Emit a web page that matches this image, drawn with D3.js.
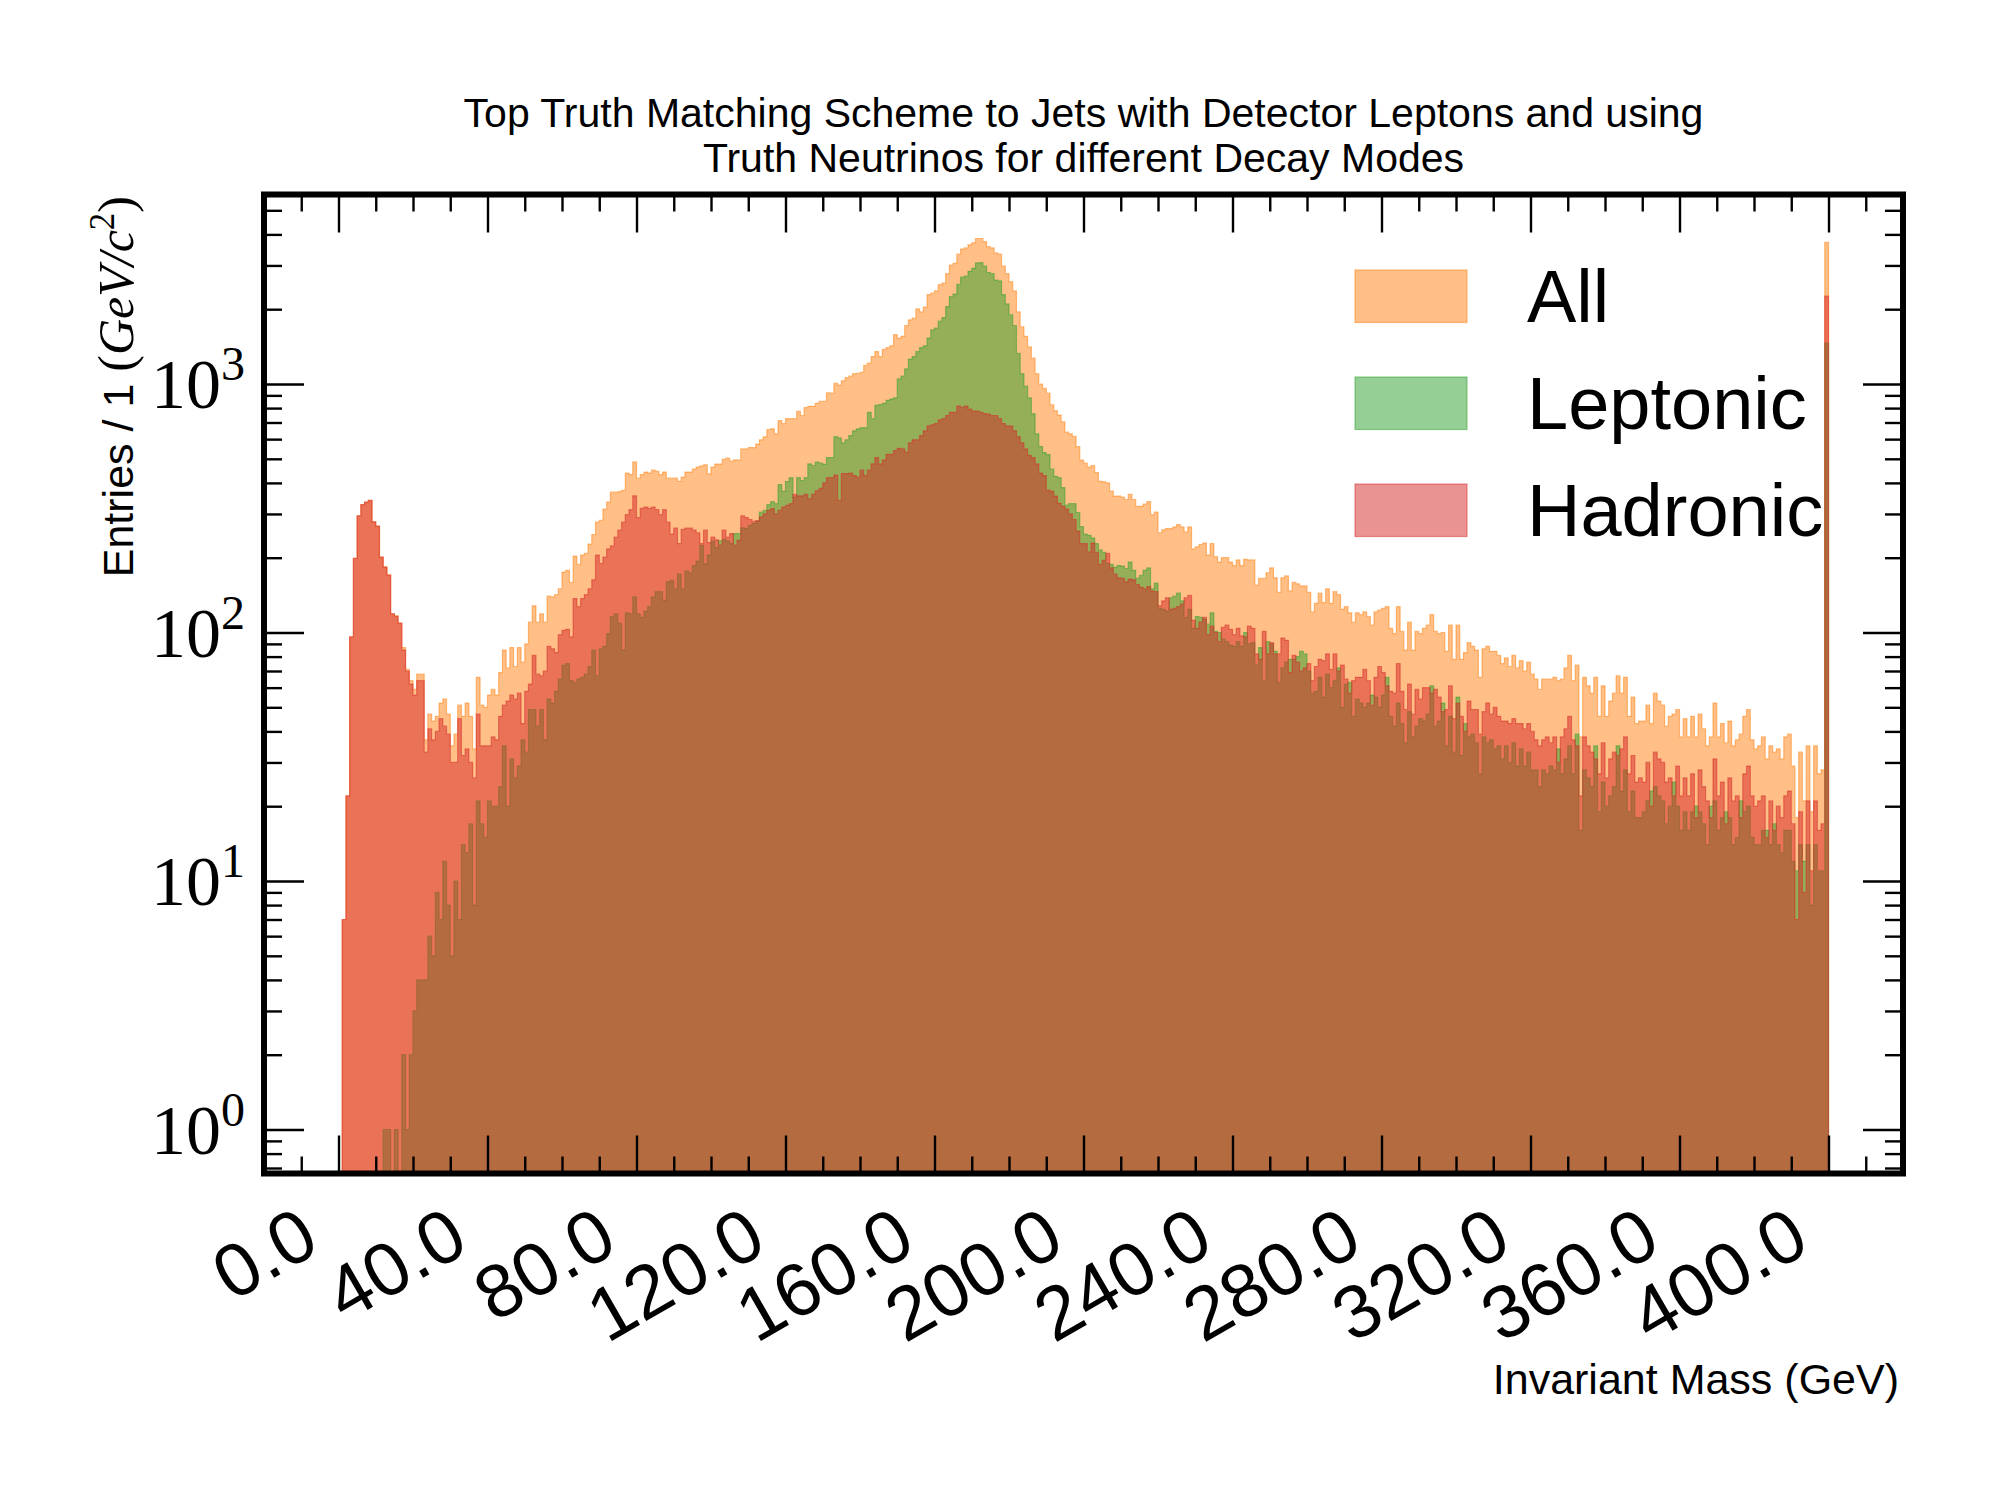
<!DOCTYPE html>
<html>
<head>
<meta charset="utf-8">
<title>Top Truth Matching - Invariant Mass</title>
<script src="https://d3js.org/d3.v7.min.js"></script>
<style>
  html, body { margin: 0; padding: 0; background: #ffffff; }
</style>
</head>
<body>
<svg id="chart"></svg>
<script>
// ---- data: 1 GeV bins from 0 to 400 GeV ----
var binStart = 0, binWidth = 1;

var allCounts = [
  0, 7, 22, 96, 199, 295, 327, 335, 340, 279, 268, 201, 184, 171, 119, 117, 109, 87, 71, 64, 59,
  68, 68, 37, 47, 44, 46, 52, 54, 47, 35, 39, 51, 46, 52, 46, 34, 66, 51, 50, 56,
  59, 56, 69, 85, 72, 87, 73, 87, 76, 90, 110, 128, 110, 119, 110, 140, 139, 142, 150, 175,
  178, 159, 203, 188, 205, 208, 227, 248, 278, 283, 314, 335, 367, 367, 369, 373, 438, 432, 486, 418,
  432, 442, 438, 450, 445, 432, 442, 418, 418, 418, 406, 422, 442, 442, 455, 463, 468, 473, 435, 463, 476, 476, 497, 503,
  490, 495, 495, 548, 548, 555, 555, 573, 596, 613, 656, 660, 630, 713, 693, 725, 725, 725, 777, 747, 804, 813, 813, 836, 851, 851,
  922, 920, 1007, 990, 1030, 1060, 1075, 1100, 1105, 1115, 1190, 1215, 1290, 1350, 1290, 1380, 1400, 1425, 1580, 1530, 1555, 1720, 1810, 1840, 2005, 1950, 2040, 2290, 2320,
  2370, 2510, 2550, 2780, 3010, 3060, 3330, 3490, 3530, 3630, 3700, 3850, 3850, 3740, 3570, 3530, 3370, 3330, 2980, 2780,
  2580, 2370, 1950, 1700, 1555, 1410, 1270, 1100, 1000, 960, 920, 825, 780, 750, 705, 640, 630, 615, 560, 494,
  480, 463, 469, 440, 406, 404, 400, 371, 354, 354, 351, 343, 360, 343, 322, 322, 329, 336, 298, 305,
  252, 259, 262, 262, 266, 272, 266, 254, 266, 217, 221, 226, 229, 205, 228, 202, 192, 200, 200, 192,
  186, 196, 186, 197, 196, 196, 155, 165, 165, 174, 182, 166, 145, 166, 169, 147, 159, 157, 154, 154,
  145, 121, 131, 144, 132, 150, 131, 146, 142, 124, 127,
  120, 110, 120, 118, 121, 116, 107, 121, 123, 125, 127, 104, 99, 127, 101, 85, 110, 85, 101, 99,
  104, 107, 118, 101, 99, 100, 84, 107, 78, 107, 78, 83, 91, 88, 85, 66, 86, 88, 84, 84,
  81, 75, 79, 73, 81, 72, 77, 70, 76, 68,
  65, 59, 65, 65, 65, 66, 64, 65, 72, 81, 64, 74, 38, 66, 61, 57, 66, 46, 61, 46,
  53, 57, 67, 57, 66, 46, 55, 43, 44, 44, 51, 43, 57, 53, 51, 42, 46, 47, 49, 38,
  45, 38, 46, 38, 47, 41, 35, 38, 52, 38,
  43, 36, 44, 35, 37, 39, 46, 49, 37, 34, 35, 38, 31, 35, 33, 34, 31, 38, 39, 29,
  18, 33, 21, 35, 19, 35, 27, 28, 3720
];

var leptonicCounts = [
  0, 0, 0, 0, 0, 0, 0, 0, 0, 0, 0, 0, 1, 1, 0, 1, 0, 2, 1, 2, 3,
  4, 4, 4, 6, 5, 9, 7, 12, 8, 5, 10, 7, 14, 13, 17, 8, 21, 17, 15, 21,
  20, 20, 24, 35, 20, 31, 26, 29, 37, 33, 49, 49, 42, 49, 37, 54, 52, 58, 65, 74,
  75, 64, 63, 65, 66, 68, 73, 85, 67, 86, 88, 99, 116, 119, 109, 85, 120, 119, 139, 119,
  115, 122, 127, 139, 146, 146, 135, 160, 162, 150, 172, 150, 177, 174, 186, 194, 224, 189, 205, 233, 220, 234, 237, 234,
  228, 250, 250, 264, 262, 270, 275, 280, 305, 310, 327, 336, 330, 394, 370, 405, 420, 350, 420, 409, 420, 477, 470, 485, 480, 475,
  506, 506, 614, 607, 580, 596, 620, 648, 660, 667, 667, 769, 725, 822, 826, 836, 860, 870, 880, 1048, 1075, 1150, 1260, 1290, 1350, 1400, 1425, 1530, 1650,
  1680, 1790, 1850, 2050, 2250, 2300, 2520, 2690, 2720, 2840, 2920, 3070, 3080, 2980, 2810, 2780, 2620, 2600, 2290, 2100,
  1900, 1720, 1330, 1100, 980, 880, 760, 630, 560, 530, 520, 455, 425, 420, 383, 326, 330, 330, 304, 267,
  249, 246, 240, 228, 215, 210, 190, 188, 183, 186, 185, 181, 192, 178, 165, 170, 178, 182, 150, 158,
  125, 124, 122, 138, 140, 144, 134, 115, 124, 104, 116, 115, 113, 108, 120, 101, 100, 94, 92, 89,
  88, 92, 88, 100, 90, 91, 74, 87, 64, 92, 90, 84, 63, 72, 76, 78, 78, 80, 84, 82,
  70, 57, 58, 66, 55, 68, 60, 64, 72, 50, 62,
  63, 46, 54, 52, 50, 52, 56, 55, 50, 56, 66, 46, 42, 52, 43, 36, 48, 38, 42, 45,
  44, 47, 61, 42, 44, 52, 35, 46, 33, 55, 32, 43, 38, 39, 36, 27, 38, 36, 37, 34,
  35, 31, 35, 30, 36, 29, 34, 29, 33, 28,
  28, 24, 28, 27, 29, 28, 34, 27, 31, 35, 27, 39, 16, 28, 26, 24, 35, 19, 25, 20,
  22, 24, 35, 23, 28, 19, 23, 18, 18, 19, 21, 23, 24, 22, 21, 17, 20, 25, 20, 16,
  19, 16, 19, 20, 19, 17, 14, 20, 21, 16,
  18, 19, 18, 14, 15, 21, 19, 20, 15, 14, 14, 16, 16, 14, 17, 14, 13, 16, 16, 12,
  11, 14, 12, 14, 8, 14, 11, 11, 1460
];

var hadronicCounts = [
  0, 7, 22, 96, 199, 295, 327, 335, 340, 279, 268, 201, 183, 170, 119, 116, 109, 85, 70, 62, 56,
  64, 64, 33, 41, 37, 40, 45, 42, 39, 30, 30, 45, 32, 34, 30, 26, 47, 35, 35, 35,
  38, 37, 46, 51, 53, 56, 54, 57, 43, 58, 62, 81, 68, 67, 70, 88, 86, 83, 98, 102,
  103, 96, 137, 127, 137, 142, 150, 163, 205, 190, 201, 217, 223, 242, 258, 278, 298, 312, 355, 290,
  316, 320, 316, 320, 312, 298, 312, 278, 249, 263, 228, 260, 263, 263, 258, 252, 228, 258, 230, 242, 236, 225, 258, 242,
  250, 225, 235, 295, 290, 285, 280, 282, 292, 300, 310, 315, 300, 310, 320, 325, 330, 360, 355, 355, 360, 345, 360, 372, 380, 400,
  420, 420, 430, 340, 436, 436, 438, 428, 422, 450, 428, 450, 477, 506, 477, 495, 521, 521, 540, 551, 548, 532, 580, 596, 596, 620, 648, 678, 685,
  693, 718, 725, 747, 769, 769, 815, 805, 815, 792, 778, 778, 769, 760, 756, 747, 747, 725, 693, 678,
  678, 648, 614, 580, 548, 516, 506, 477, 438, 428, 374, 370, 354, 331, 322, 314, 300, 285, 256, 228,
  228, 211, 229, 210, 188, 195, 208, 182, 172, 166, 165, 160, 164, 163, 156, 152, 150, 153, 147, 146,
  128, 134, 138, 124, 125, 127, 130, 138, 141, 112, 104, 110, 115, 98, 106, 100, 92, 105, 107, 103,
  98, 104, 97, 96, 106, 104, 82, 78, 101, 82, 91, 82, 82, 95, 93, 69, 81, 76, 70, 72,
  75, 64, 73, 78, 77, 82, 71, 82, 70, 74, 65,
  57, 64, 66, 66, 71, 64, 51, 66, 73, 69, 61, 58, 57, 75, 58, 49, 62, 47, 59, 54,
  60, 60, 57, 59, 55, 48, 49, 61, 45, 52, 46, 40, 53, 49, 49, 39, 48, 52, 47, 50,
  46, 44, 44, 43, 45, 43, 43, 41, 43, 40,
  37, 35, 37, 38, 36, 38, 30, 38, 41, 46, 37, 35, 22, 38, 35, 33, 31, 27, 36, 26,
  31, 33, 32, 34, 38, 27, 32, 25, 26, 25, 30, 20, 33, 31, 30, 25, 26, 22, 29, 22,
  26, 22, 27, 18, 28, 24, 21, 18, 31, 22,
  25, 17, 26, 21, 22, 18, 27, 29, 22, 20, 21, 22, 15, 21, 16, 20, 18, 22, 23, 17,
  7, 19, 9, 21, 11, 21, 16, 17, 2260
];

var seriesNames = ["All", "Leptonic", "Hadronic"];
var xTickValues = [0, 40, 80, 120, 160, 200, 240, 280, 320, 360, 400];
var yTickExponents = [0, 1, 2, 3];

var titleLines = [
  "Top Truth Matching Scheme to Jets with Detector Leptons and using",
  "Truth Neutrinos for different Decay Modes"
];

// ---- layout ----
var width = 2000, height = 1500;
var plot = { left: 264, right: 1903, top: 194.5, bottom: 1173.5 };
var colors = { All: "#ff7f0e", Leptonic: "#2ca02c", Hadronic: "#d62728" };
var sans = "'Liberation Sans', Arial, Helvetica, sans-serif";
var serif = "'Liberation Serif', 'Times New Roman', serif";

var svg = d3.select("#chart")
  .attr("width", width)
  .attr("height", height)
  .style("display", "block");

svg.append("rect").attr("width", width).attr("height", height).attr("fill", "#ffffff");

// scales
var x = d3.scaleLinear().domain([-20, 420]).range([plot.left, plot.right]);
var y = d3.scaleLog().domain([Math.pow(10, -0.177), Math.pow(10, 3.7626)]).range([plot.bottom, plot.top]);

svg.append("clipPath").attr("id", "plotClip")
  .append("rect")
  .attr("x", plot.left).attr("y", plot.top)
  .attr("width", plot.right - plot.left).attr("height", plot.bottom - plot.top);

// histogram step areas
function toBins(counts) {
  var pts = counts.map(function(c, i) { return { edge: binStart + i * binWidth, v: c }; });
  pts.push({ edge: binStart + counts.length * binWidth, v: counts[counts.length - 1] });
  return pts;
}

var area = d3.area()
  .curve(d3.curveStepAfter)
  .x(function(d) { return x(d.edge); })
  .y0(plot.bottom + 40)
  .y1(function(d) { return d.v > 0 ? y(d.v) : plot.bottom + 40; });

var histData = [
  { name: "All", counts: allCounts },
  { name: "Leptonic", counts: leptonicCounts },
  { name: "Hadronic", counts: hadronicCounts }
];

var histG = svg.append("g").attr("clip-path", "url(#plotClip)");
histG.selectAll("path.hist")
  .data(histData)
  .enter().append("path")
  .attr("class", "hist")
  .attr("d", function(d) { return area(toBins(d.counts)); })
  .attr("fill", function(d) { return colors[d.name]; })
  .attr("fill-opacity", 0.5)
  .attr("stroke", function(d) { return colors[d.name]; })
  .attr("stroke-opacity", 0.5)
  .attr("stroke-width", 1.2);

// ticks (all pointing inwards, on all four sides)
var xMinor = d3.range(-10, 420, 10).filter(function(v) { return v % 40 !== 0; });
var yMinor = [];
[-1, 0, 1, 2, 3].forEach(function(k) {
  for (var m = 2; m <= 9; m++) {
    var v = m * Math.pow(10, k);
    if (v > y.domain()[0] && v < y.domain()[1]) yMinor.push(v);
  }
});
var yMajor = yTickExponents.map(function(k) { return Math.pow(10, k); });

function styleAxis(g) {
  g.select(".domain").remove();
  g.selectAll(".tick line").attr("stroke", "#000").attr("stroke-width", 2.4);
}

svg.append("g").attr("transform", "translate(0," + plot.bottom + ")")
  .call(d3.axisBottom(x).tickValues(xTickValues).tickSize(-38).tickFormat("")).call(styleAxis);
svg.append("g").attr("transform", "translate(0," + plot.bottom + ")")
  .call(d3.axisBottom(x).tickValues(xMinor).tickSize(-17).tickFormat("")).call(styleAxis);
svg.append("g").attr("transform", "translate(0," + plot.top + ")")
  .call(d3.axisTop(x).tickValues(xTickValues).tickSize(-38).tickFormat("")).call(styleAxis);
svg.append("g").attr("transform", "translate(0," + plot.top + ")")
  .call(d3.axisTop(x).tickValues(xMinor).tickSize(-17).tickFormat("")).call(styleAxis);

svg.append("g").attr("transform", "translate(" + plot.left + ",0)")
  .call(d3.axisLeft(y).tickValues(yMajor).tickSize(-40).tickFormat("")).call(styleAxis);
svg.append("g").attr("transform", "translate(" + plot.left + ",0)")
  .call(d3.axisLeft(y).tickValues(yMinor).tickSize(-18).tickFormat("")).call(styleAxis);
svg.append("g").attr("transform", "translate(" + plot.right + ",0)")
  .call(d3.axisRight(y).tickValues(yMajor).tickSize(-40).tickFormat("")).call(styleAxis);
svg.append("g").attr("transform", "translate(" + plot.right + ",0)")
  .call(d3.axisRight(y).tickValues(yMinor).tickSize(-18).tickFormat("")).call(styleAxis);

// frame
svg.append("rect")
  .attr("x", plot.left).attr("y", plot.top)
  .attr("width", plot.right - plot.left).attr("height", plot.bottom - plot.top)
  .attr("fill", "none").attr("stroke", "#000").attr("stroke-width", 6);

// x tick labels, rotated
var fmt = d3.format(".1f");
var labDx = -16, labY = 1250;
svg.append("g").selectAll("text")
  .data(xTickValues)
  .enter().append("text")
  .attr("x", function(d) { return x(d) + labDx; })
  .attr("y", labY)
  .attr("transform", function(d) { return "rotate(-30," + (x(d) + labDx) + "," + labY + ")"; })
  .attr("text-anchor", "end")
  .attr("font-family", sans)
  .attr("font-size", 75)
  .attr("fill", "#000")
  .text(function(d) { return fmt(d); });

// y tick labels 10^k
var yLab = svg.append("g").selectAll("text")
  .data(yTickExponents)
  .enter().append("text")
  .attr("x", 245)
  .attr("y", function(k) { return y(Math.pow(10, k)) + 24; })
  .attr("text-anchor", "end")
  .attr("font-family", serif)
  .attr("fill", "#000");
yLab.append("tspan").attr("font-size", 70).text("10");
yLab.append("tspan").attr("font-size", 48).attr("dy", -28).text(function(k) { return k; });

// axis labels
svg.append("text")
  .attr("x", 1899).attr("y", 1394)
  .attr("text-anchor", "end")
  .attr("font-family", sans).attr("font-size", 43)
  .text("Invariant Mass (GeV)");

var yl = svg.append("text")
  .attr("transform", "translate(133,196) rotate(-90)")
  .attr("text-anchor", "end")
  .attr("font-size", 43);
yl.append("tspan").attr("font-family", sans).text("Entries / 1 ");
yl.append("tspan").attr("font-family", serif).attr("font-size", 50).text("(");
yl.append("tspan").attr("font-family", serif).attr("font-size", 50).attr("font-style", "italic").text("GeV/c");
yl.append("tspan").attr("font-family", serif).attr("font-size", 35).attr("dy", -19).text("2");
yl.append("tspan").attr("font-family", serif).attr("font-size", 50).attr("dy", 19).text(")");

// title
svg.append("g").selectAll("text")
  .data(titleLines)
  .enter().append("text")
  .attr("x", (plot.left + plot.right) / 2)
  .attr("y", function(d, i) { return 127 + i * 45; })
  .attr("text-anchor", "middle")
  .attr("font-family", sans).attr("font-size", 41)
  .text(function(d) { return d; });

// legend
var legend = svg.append("g").selectAll("g")
  .data(seriesNames)
  .enter().append("g")
  .attr("transform", function(d, i) { return "translate(1355," + (270 + i * 107) + ")"; });
legend.append("rect")
  .attr("width", 112).attr("height", 52.5)
  .attr("fill", function(d) { return colors[d]; }).attr("fill-opacity", 0.5)
  .attr("stroke", function(d) { return colors[d]; }).attr("stroke-opacity", 0.5).attr("stroke-width", 1.2);
legend.append("text")
  .attr("x", 172).attr("y", 52)
  .attr("font-family", sans).attr("font-size", 74)
  .text(function(d) { return d; });
</script>
</body>
</html>
